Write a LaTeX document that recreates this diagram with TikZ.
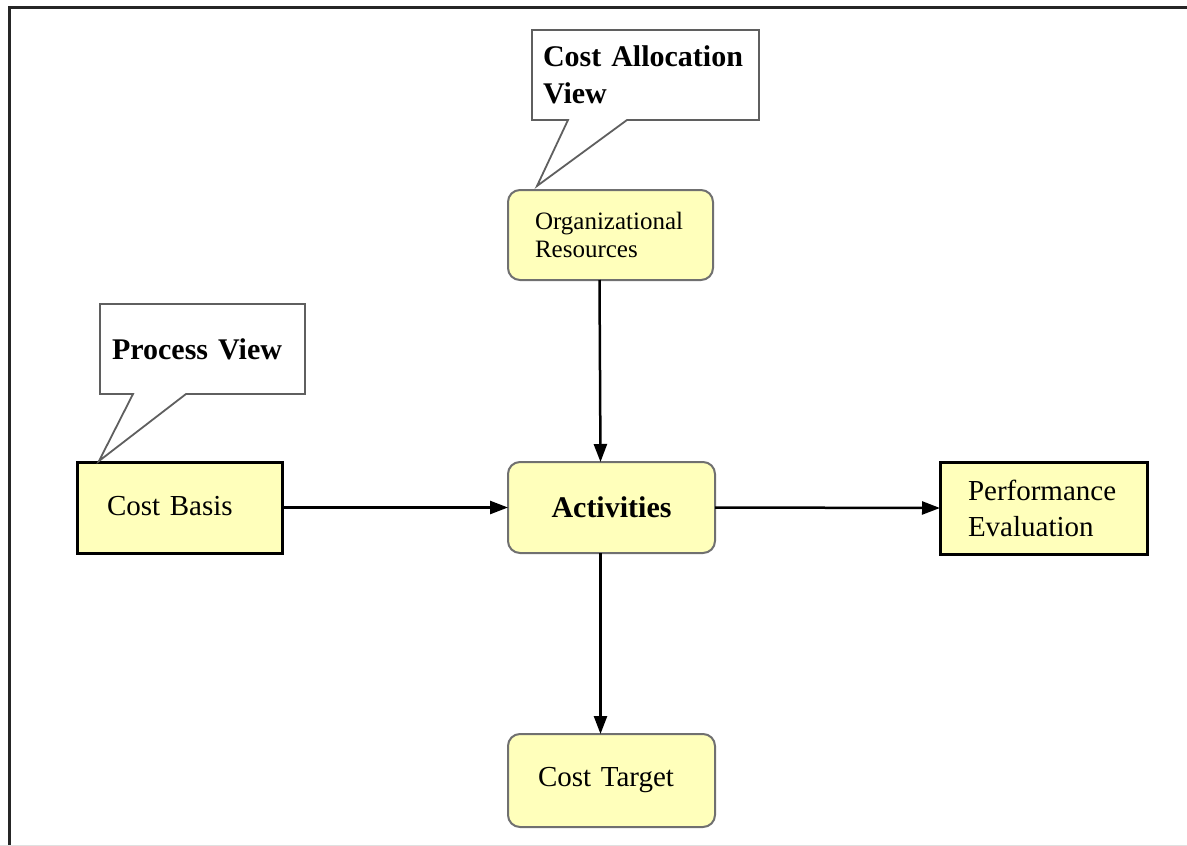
\documentclass[tikz,border=0pt]{standalone}
\usepackage{fontspec}
\setmainfont{Liberation Serif}
\usetikzlibrary{arrows.meta,calc}
\definecolor{boxfill}{RGB}{255,255,187}
\definecolor{softedge}{RGB}{112,112,112}
\definecolor{calloutedge}{RGB}{95,95,95}
\begin{document}
\hyphenpenalty=10000 \exhyphenpenalty=10000
\begin{tikzpicture}[x=1pt,y=-1pt,
  sqbox/.style={draw=black, line width=3pt, fill=boxfill, outer sep=0pt, align=left,
    font=\fontsize{29}{36}\selectfont},
  rbox/.style={draw=softedge, line width=2pt, fill=boxfill, rounded corners=12pt, outer sep=0pt,
    font=\fontsize{29}{36}\selectfont},
  calloutbox/.style={draw=none, outer sep=0pt, align=left,
    font=\bfseries\fontsize{30}{37}\selectfont},
  calloutline/.style={draw=calloutedge, line width=1.8pt, fill=white, line join=miter},
  flow/.style={draw=black, line width=2.5pt, -{Triangle[length=18pt,width=13pt]}},
  frameline/.style={draw=black!85, line width=3pt}
]
\useasboundingbox (0,0) rectangle (1187,846);
% outer frame
\coordinate (fbl) at (9,852);
\coordinate (ftl) at (9,7);
\coordinate (ftr) at (1195,7);
\draw[frameline] (fbl) -- (ftl) -- (ftr);
\coordinate (bl) at (0,845.5);
\coordinate (br) at (1187,845.5);
\draw[black!12, line width=1pt] (bl) -- (br);

% main nodes
\node[sqbox, minimum width=205pt, minimum height=91pt, text width=145pt, inner xsep=30pt]
  (cb) at (179.5,507.5) {\raisebox{4pt}{Cost Basis}};
\node[rbox, minimum width=205pt, minimum height=90pt, text width=151pt, inner xsep=27pt,
  align=left, font=\fontsize{25}{28}\selectfont]
  (org) at (610.5,235) {Organizational\\Resources};
\node[rbox, minimum width=207pt, minimum height=91pt, font=\bfseries\fontsize{30}{36}\selectfont]
  (act) at (611.5,507.5) {Activities};
\node[sqbox, minimum width=207pt, minimum height=92pt, text width=151pt, inner xsep=28pt]
  (pe) at (1043.5,508) {Performance\\Evaluation};
\node[rbox, minimum width=207pt, minimum height=93pt, text width=147pt, inner xsep=30pt, align=left]
  (ct) at (611.5,780.5) {Cost Target};

% callouts
\node[calloutbox, minimum width=205pt, minimum height=90pt, text width=181pt, inner xsep=12pt]
  (pv) at (202.5,349) {};
\coordinate (pvtip) at ($(cb.north west)+(22pt,1pt)$);
\draw[calloutline] (pv.south west) -- (pv.north west) -- (pv.north east) -- (pv.south east)
  -- ($(pv.south west)+(86pt,0)$) -- (pvtip) -- ($(pv.south west)+(33pt,0)$) -- cycle;
\node[calloutbox, minimum width=205pt, minimum height=90pt, text width=181pt, inner xsep=12pt]
  at (pv.center) {Process View};

\node[calloutbox, minimum width=227pt, minimum height=90pt, text width=205pt, inner xsep=11pt]
  (ca) at (645.5,75) {};
\coordinate (catip) at ($(org.north west)+(29pt,4pt)$);
\draw[calloutline] (ca.south west) -- (ca.north west) -- (ca.north east) -- (ca.south east)
  -- ($(ca.south west)+(95pt,0)$) -- (catip) -- ($(ca.south west)+(36pt,0)$) -- cycle;
\node[calloutbox, minimum width=227pt, minimum height=90pt, text width=205pt, inner xsep=11pt]
  at (ca.center) {Cost Allocation\\View};

% connectors
\draw[flow] ([xshift=-11pt]org.south) -- ([xshift=-11pt]act.north);
\draw[flow] (cb.east) -- (act.west);
\draw[flow] (act.east) -- (pe.west);
\draw[flow] ([xshift=-11pt]act.south) -- ([xshift=-11pt]ct.north);
\end{tikzpicture}
\end{document}
